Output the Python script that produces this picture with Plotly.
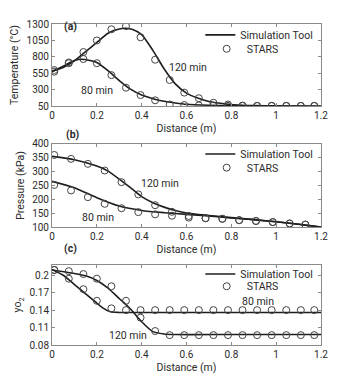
import plotly.graph_objects as go

# ---------------- data ----------------
# (a) temperature
a_sim_x = [0, 0.05, 0.1, 0.15, 0.2, 0.25, 0.3, 0.33, 0.36, 0.4, 0.45, 0.5, 0.55, 0.6, 0.65, 0.7, 0.75, 0.8, 0.85, 0.9, 1.0, 1.1, 1.2]
a_sim_120 = [585, 640, 740, 880, 1020, 1160, 1225, 1235, 1215, 1140, 900, 620, 390, 250, 175, 122, 95, 75, 65, 60, 55, 52, 50]
a_sim_80_x = [0, 0.05, 0.1, 0.13, 0.17, 0.2, 0.25, 0.3, 0.35, 0.4, 0.45, 0.5, 0.55, 0.6, 0.7, 0.8, 1.0, 1.2]
a_sim_80 = [575, 660, 745, 765, 745, 715, 590, 440, 310, 220, 165, 125, 100, 80, 65, 57, 52, 50]
a_stars_x = [0.01, 0.075, 0.14, 0.2, 0.265, 0.33, 0.395, 0.46, 0.525, 0.59, 0.655, 0.72, 0.785, 0.85, 0.915, 0.98, 1.045, 1.11, 1.17]
a_stars_120 = [600, 704, 874, 1050, 1220, 1268, 1098, 757, 449, 257, 172, 103, 76, 60, 55, 55, 55, 55, 55]
a_stars_80 = [575, 715, 768, 704, 523, 332, 220, 140, 76, 68, 62, 58, 56, 55, 55, 55, 55, 55, 55]

# (b) pressure
b_sim_x = [0, 0.1, 0.2, 0.25, 0.3, 0.35, 0.4, 0.45, 0.5, 0.55, 0.6, 0.7, 0.8, 0.9, 1.0, 1.1, 1.2]
b_sim_120 = [355, 343, 320, 302, 273, 242, 210, 188, 172, 160, 151, 142, 134, 127, 119, 110, 100]
b_sim_80_x = [0, 0.1, 0.2, 0.3, 0.4, 0.5, 0.6, 0.7, 0.8, 0.9, 1.0, 1.1, 1.2]
b_sim_80 = [265, 242, 206, 176, 160, 152, 146, 140, 133, 127, 119, 110, 100]
b_stars_x = [0.01, 0.085, 0.16, 0.235, 0.31, 0.385, 0.46, 0.535, 0.61, 0.685, 0.76, 0.835, 0.91, 0.985, 1.06, 1.13]
b_stars_120 = [360, 346, 328, 304, 262, 218, 179, 155, 140, 132, 130, 125, 122, 118, 113, 109]
b_stars_80 = [252, 232, 208, 184, 168, 154, 146, 141, 134, 132, 130, 125, 122, 118, 113, 109]

# (c) oxygen mole fraction
c_sim_80_x = [0, 0.05, 0.1, 0.15, 0.2, 0.23, 0.26, 0.3, 0.6, 0.9, 1.2]
c_sim_80 = [0.210, 0.200, 0.184, 0.168, 0.152, 0.143, 0.137, 0.136, 0.136, 0.136, 0.136]
c_sim_120_x = [0, 0.1, 0.15, 0.2, 0.25, 0.3, 0.35, 0.4, 0.45, 0.5, 0.55, 0.8, 1.2]
c_sim_120 = [0.209, 0.203, 0.199, 0.191, 0.178, 0.160, 0.142, 0.120, 0.103, 0.099, 0.098, 0.098, 0.098]
c_stars_x = a_stars_x
c_stars_80 = [0.209, 0.194, 0.176, 0.156, 0.143, 0.140, 0.140, 0.140, 0.140, 0.140, 0.140, 0.140, 0.140, 0.140, 0.140, 0.140, 0.140, 0.140, 0.140]
c_stars_120 = [0.209, 0.207, 0.202, 0.194, 0.181, 0.156, 0.127, 0.104, 0.097, 0.097, 0.097, 0.097, 0.097, 0.097, 0.097, 0.097, 0.097, 0.097, 0.097]

x_ticks = [0, 0.2, 0.4, 0.6, 0.8, 1, 1.2]
x_tick_text = ["0", "0.2", "0.4", "0.6", "0.8", "1", "1.2"]
a_ticks = [50, 300, 550, 800, 1050, 1300]
b_ticks = [100, 150, 200, 250, 300, 350, 400]
c_ticks = [0.08, 0.11, 0.14, 0.17, 0.2]
c_tick_text = ["0.08", "0.11", "0.14", "0.17", "0.2"]

# ---------------- style ----------------
FONT = "Roboto"
FS = 10
FS_L = 10.5
TXT = "#2b2b2b"
LINE = "#1e1e1e"
MARK = "#444444"
FRAME = "#8a8a8a"

fig = go.Figure()

def sim(x, y, xa, ya, legend, show):
    fig.add_trace(go.Scatter(x=x, y=y, mode="lines", xaxis=xa, yaxis=ya,
                             line=dict(color=LINE, width=1.6, shape="spline", smoothing=0.6),
                             name="Simulation Tool", legend=legend, showlegend=show,
                             hoverinfo="skip"))

def stars(x, y, xa, ya, legend, show):
    fig.add_trace(go.Scatter(x=x, y=y, mode="markers", xaxis=xa, yaxis=ya,
                             marker=dict(symbol="circle-open", size=7, color=MARK,
                                         line=dict(width=1, color=MARK)),
                             name="STARS", legend=legend, showlegend=show,
                             hoverinfo="skip"))

# panel a
sim(a_sim_x, a_sim_120, "x", "y", "legend", True)
sim(a_sim_80_x, a_sim_80, "x", "y", "legend", False)
stars(a_stars_x, a_stars_120, "x", "y", "legend2", True)
stars(a_stars_x, a_stars_80, "x", "y", "legend2", False)
# panel b
sim(b_sim_x, b_sim_120, "x2", "y2", "legend3", True)
sim(b_sim_80_x, b_sim_80, "x2", "y2", "legend3", False)
stars(b_stars_x, b_stars_120, "x2", "y2", "legend4", True)
stars(b_stars_x, b_stars_80, "x2", "y2", "legend4", False)
# panel c
sim(c_sim_80_x, c_sim_80, "x3", "y3", "legend5", True)
sim(c_sim_120_x, c_sim_120, "x3", "y3", "legend5", False)
stars(c_stars_x, c_stars_80, "x3", "y3", "legend6", True)
stars(c_stars_x, c_stars_120, "x3", "y3", "legend6", False)

def xaxis(anchor):
    return dict(anchor=anchor, domain=[0, 1], range=[0, 1.2], tickvals=x_ticks, ticktext=x_tick_text,
                ticks="inside", ticklen=3, tickcolor=FRAME, showline=True, linecolor=FRAME,
                linewidth=1, mirror="ticks", showgrid=False, zeroline=False, automargin=False,
                tickfont=dict(family=FONT, size=FS, color=TXT),
                title=dict(text="Distance (m)", font=dict(family=FONT, size=FS_L, color=TXT), standoff=4))

def yaxis(anchor, dom, rng, tv, tt, title):
    return dict(anchor=anchor, domain=dom, range=rng, tickvals=tv, ticktext=tt,
                ticks="inside", ticklen=3, tickcolor=FRAME, showline=True, linecolor=FRAME,
                linewidth=1, mirror="ticks", showgrid=False, zeroline=False, automargin=False,
                tickfont=dict(family=FONT, size=FS, color=TXT),
                title=dict(text=title, font=dict(family=FONT, size=FS_L, color=TXT), standoff=5))

def leg(x, y, xanchor):
    return dict(x=x, y=y, xanchor=xanchor, yanchor="middle", bgcolor="rgba(0,0,0,0)",
                borderwidth=0, font=dict(family=FONT, size=FS_L, color=TXT), itemwidth=30,
                tracegroupgap=0)

# page has an 8px body margin, so margins are reduced by 8 on the left/top
fig.update_layout(
    width=353, height=378,
    margin=dict(l=44, r=40, t=13, b=41),
    plot_bgcolor="white", paper_bgcolor="white",
    font=dict(family=FONT, size=FS, color=TXT),
    xaxis=xaxis("y"), xaxis2=xaxis("y2"), xaxis3=xaxis("y3"),
    yaxis=yaxis("x", [0.7438, 1.0], [50, 1300], a_ticks, [str(v) for v in a_ticks], "Temperature (°C)"),
    yaxis2=yaxis("x2", [0.3673, 0.6265], [100, 400], b_ticks, [str(v) for v in b_ticks], "Pressure (kPa)"),
    yaxis3=yaxis("x3", [0.0, 0.25], [0.08, 0.218], c_ticks, c_tick_text, "yo<sub>2</sub>"),
    legend=leg(0.99, 0.966, "right"),
    legend2=leg(0.575, 0.9228, "left"),
    legend3=leg(0.99, 0.5948, "right"),
    legend4=leg(0.575, 0.5525, "left"),
    legend5=leg(0.99, 0.2213, "right"),
    legend6=leg(0.575, 0.183, "left"),
    showlegend=True,
)

ann_font = dict(family=FONT, size=FS_L, color=TXT)
annotations = [
    dict(text="<b>(a)</b>", x=0.037, y=1.0185, xref="paper", yref="paper", showarrow=False, font=ann_font),
    dict(text="<b>(b)</b>", x=0.045, y=0.655, xref="paper", yref="paper", showarrow=False, font=ann_font),
    dict(text="<b>(c)</b>", x=0.037, y=0.2756, xref="paper", yref="paper", showarrow=False, font=ann_font),
    dict(text="120 min", x=0.605, y=638, xref="x", yref="y", showarrow=False, font=ann_font),
    dict(text="80 min", x=0.199, y=294, xref="x", yref="y", showarrow=False, font=ann_font),
    dict(text="120 min", x=0.482, y=256, xref="x2", yref="y2", showarrow=False, font=ann_font),
    dict(text="80 min", x=0.205, y=135, xref="x2", yref="y2", showarrow=False, font=ann_font),
    dict(text="80 min", x=0.917, y=0.155, xref="x3", yref="y3", showarrow=False, font=ann_font),
    dict(text="120 min", x=0.34, y=0.097, xref="x3", yref="y3", showarrow=False, font=ann_font),
]
fig.update_layout(annotations=annotations)

fig.write_html("out.html")
